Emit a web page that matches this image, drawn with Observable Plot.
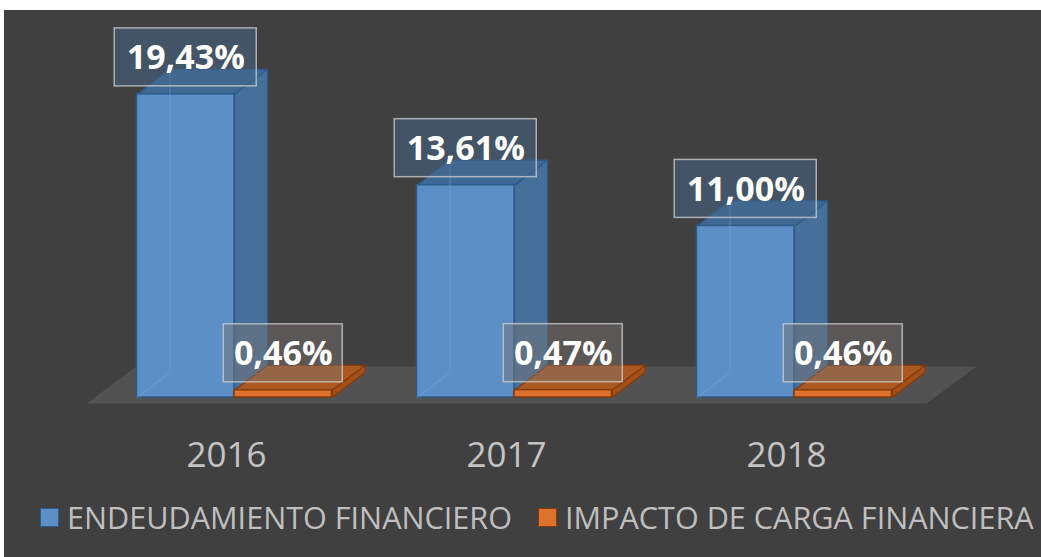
<!DOCTYPE html>
<html><head><meta charset="utf-8">
<script src="https://cdn.jsdelivr.net/npm/d3@7"></script>
<script src="https://cdn.jsdelivr.net/npm/@observablehq/plot@0.6"></script>
<style>
html,body{margin:0;padding:0;background:#fff;}
#frame{position:absolute;left:4px;top:10px;width:1037px;height:547px;background:#404040;overflow:hidden;font-family:"Open Sans",sans-serif;}
#chart svg{display:block;}
#legend{position:absolute;left:0;top:487px;width:1037px;height:40px;color:#bfbfbf;font-size:30.6px;}
.item{position:absolute;top:0;display:flex;align-items:center;white-space:nowrap;height:40px;}
.sw{width:17px;height:17px;margin-right:8px;border:1.5px solid;}
</style></head>
<body>
<div id="frame"><div id="chart"></div><div id="legend"></div></div>
<script>
// ---- data ----
const years = ["2016", "2017", "2018"];
const endeudamiento = [19.43, 13.61, 11.00];
const impacto = [0.46, 0.47, 0.46];
const seriesNames = ["ENDEUDAMIENTO FINANCIERO", "IMPACTO DE CARGA FINANCIERA"];

// ---- styles ----
const W = 1037, H = 480;
const baseY = 387, pxPerUnit = 15.6, groupPx = 280, originPx = 230;
const bw = 97.5 / groupPx;            // bar width in category units
const depthX = 33 / groupPx, depthY = 25 / pxPerUnit;
const catOffset = -8 / groupPx;
const floorDx = 50 / groupPx, floorFront = -6 / pxPerUnit, floorBack = 31 / pxPerUnit;
const legendLeft = [36, 534];
const styles = [
  {front: "#5b8fc5", side: "#47729f", top: "#3f6b99", stroke: "#2d5b8a", box: "#46688c", boxOp: 0.5, boxW: 142, edge: "#78a8da"},
  {front: "#dc722c", side: "#a94f14", top: "#b05a1f", stroke: "#843a0b", box: "#7a7470", boxOp: 0.45, boxW: 119, edge: null}
];
const fmt = v => v.toFixed(2).replace(".", ",") + "%";

// ---- derived geometry ----
const bars = [];
[endeudamiento, impacto].forEach((vals, s) => vals.forEach((v, i) => {
  const x0 = s === 0 ? i - bw : i, x1 = x0 + bw;
  bars.push({s, i, v, x0, x1, cx: (x0 + x1) / 2, label: fmt(v)});
}));
const poly = (id, pts) => pts.concat([pts[0]]).map(([x, y]) => ({id, x, y}));
const sidePts = [], topPts = [], edgePts = [];
bars.forEach((b, k) => {
  sidePts.push(...poly(k, [[b.x1, 0], [b.x1 + depthX, depthY], [b.x1 + depthX, b.v + depthY], [b.x1, b.v]]).map(p => ({...p, s: b.s})));
  topPts.push(...poly(k, [[b.x0, b.v], [b.x1, b.v], [b.x1 + depthX, b.v + depthY], [b.x0 + depthX, b.v + depthY]]).map(p => ({...p, s: b.s})));
  if (b.s === 0) {
    edgePts.push({id: k, x: b.x0, y: 0}, {id: k, x: b.x0 + depthX, y: depthY}, {id: k, x: b.x0 + depthX, y: b.v + depthY});
  }
});
const n = years.length;
const floor = poly("f", [[-0.5 + catOffset, floorFront], [n - 0.5 + catOffset, floorFront],
                         [n - 0.5 + catOffset + floorDx, floorBack], [-0.5 + catOffset + floorDx, floorBack]]);

const marks = [
  Plot.line(floor, {x: "x", y: "y", z: "id", fill: "#525252", stroke: "none"})
];
[0, 1].forEach(s => {
  const st = styles[s];
  const B = bars.filter(b => b.s === s);
  marks.push(
    Plot.line(sidePts.filter(p => p.s === s), {x: "x", y: "y", z: "id", fill: st.side, fillOpacity: 0.95, stroke: st.stroke, strokeWidth: 1.2, strokeLinejoin: "round"}),
    Plot.line(topPts.filter(p => p.s === s), {x: "x", y: "y", z: "id", fill: st.top, fillOpacity: 0.95, stroke: st.stroke, strokeWidth: 1.2, strokeLinejoin: "round"}),
    Plot.rect(B, {x1: "x0", x2: "x1", y1: 0, y2: "v", fill: st.front, stroke: st.stroke, strokeWidth: 1.5})
  );
  if (st.edge) marks.push(Plot.line(edgePts, {x: "x", y: "y", z: "id", stroke: st.edge, strokeOpacity: 0.4, strokeWidth: 1.2}));
});
[0, 1].forEach(s => {
  const st = styles[s];
  const B = bars.filter(b => b.s === s);
  marks.push(
    Plot.rect(B, {x1: "cx", x2: "cx", y1: "v", y2: "v", insetLeft: -st.boxW / 2, insetRight: -st.boxW / 2, insetTop: -66, insetBottom: 8,
      fill: st.box, fillOpacity: st.boxOp, stroke: "#d0d0d0", strokeOpacity: 0.75, strokeWidth: 1.5}),
    Plot.text(B, {x: "cx", y: "v", text: "label", dy: -36, fill: "white", fontSize: 34, fontWeight: 700, fontFamily: "Open Sans"})
  );
});
marks.push(Plot.text(years, {x: (d, i) => i + catOffset, y: 0, text: d => d, dy: 58, fill: "#c4c4c4", fontSize: 35, fontFamily: "Open Sans"}));

const chart = Plot.plot({
  width: W, height: H,
  marginLeft: 0, marginRight: 0, marginTop: 0, marginBottom: H - baseY,
  style: {background: "transparent", overflow: "visible"},
  x: {domain: [-originPx / groupPx, (W - originPx) / groupPx], axis: null},
  y: {domain: [0, baseY / pxPerUnit], axis: null},
  marks
});
document.getElementById("chart").appendChild(chart);

const legend = document.getElementById("legend");
seriesNames.forEach((name, s) => {
  const it = document.createElement("div");
  it.className = "item";
  it.style.left = legendLeft[s] + "px";
  const sw = document.createElement("span");
  sw.className = "sw";
  sw.style.background = styles[s].front;
  sw.style.borderColor = styles[s].stroke;
  it.appendChild(sw);
  const t = document.createElement("span");
  t.textContent = name;
  it.appendChild(t);
  legend.appendChild(it);
});
</script>
</body></html>
